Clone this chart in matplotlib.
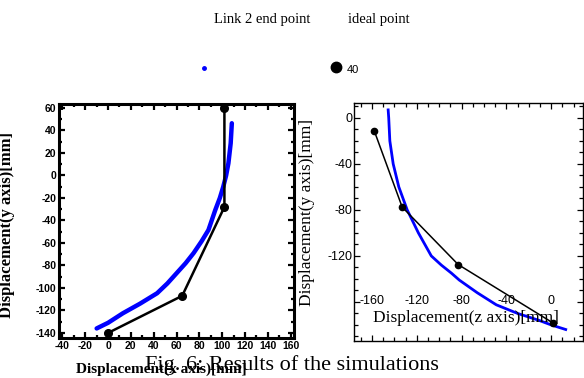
import matplotlib
matplotlib.use('Agg')
from matplotlib import pyplot as plt
from matplotlib.lines import Line2D
import numpy as np

plt.rcParams['axes.unicode_minus'] = False

# left panel: x-y plane
left_blue_x = [-10, 0, 13, 28, 43, 52, 60, 68, 75, 82, 88, 94, 98, 101,
               103.5, 105.5, 107.5, 108.5]
left_blue_y = [-136, -131, -122.5, -114, -104.7, -96, -87, -78, -69, -58.5,
               -48.5, -30.7, -20, -10, 0, 10.8, 28.6, 46.4]
left_black_x = [102, 102, 65, 0]
left_black_y = [60, -28, -107, -140]
left_xticks = list(range(-40, 161, 20))
left_yticks = list(range(-140, 61, 20))

# right panel: z-y plane
right_blue_x = [-145.5, -145, -144, -141, -136, -128.5, -118.5, -107, -98,
                -89, -82, -66, -49, -30, -11, 0, 13]
right_blue_y = [7, 0, -20, -40, -60, -80, -100, -120, -128, -135, -141,
                -152, -162.5, -170, -176, -180, -184]
right_black_x = [-158, -133, -83, 2]
right_black_y = [-11, -77.5, -127.5, -178.5]
right_xticks = [-160, -120, -80, -40, 0]
right_yticks = [0, -40, -80, -120, -160]
right_yticklabels = ['0', '-40', '-80', '-120', '']

fig = plt.figure(figsize=(5.84, 3.78), dpi=100)

# ---- left axes
axL = fig.add_axes([59 / 584, 1 - 338 / 378, 235 / 584, 234 / 378])
axL.plot(left_blue_x, left_blue_y, color='blue', lw=3.2,
         solid_capstyle='round', solid_joinstyle='round')
axL.plot(left_black_x, left_black_y, color='black', lw=1.8,
         marker='o', ms=5.5)
axL.set_xlim(-43, 163)
axL.set_ylim(-144.5, 63.5)
axL.set_xticks(left_xticks)
axL.set_yticks(left_yticks)
axL.set_xticks(np.arange(-40, 161, 10), minor=True)
axL.set_yticks(np.arange(-140, 61, 10), minor=True)
axL.tick_params(which='both', direction='in', top=True, right=True, width=1.6)
axL.tick_params(which='major', length=4)
axL.tick_params(which='minor', length=2.5)
axL.tick_params(axis='x', pad=2.5)
axL.tick_params(axis='y', pad=2)
for lab in axL.get_xticklabels() + axL.get_yticklabels():
    lab.set_family('Liberation Sans')
    lab.set_weight('bold')
    lab.set_fontsize(7.5)
for sp in axL.spines.values():
    sp.set_linewidth(2.2)
axL.set_xlabel('Displacement(x axis)[mm]', family='Liberation Serif',
               weight='bold', fontsize=11)
axL.xaxis.set_label_coords(0.434, -0.103)
axL.set_ylabel('Displacement(y axis)[mm]', family='Liberation Serif',
               weight='bold', fontsize=12)
axL.yaxis.set_label_coords(-0.187, 0.483)

# ---- right axes
axR = fig.add_axes([354 / 584, 1 - 341 / 378, 228.5 / 584, 238 / 378])
axR.plot(right_blue_x, right_blue_y, color='blue', lw=2,
         solid_joinstyle='round')
axR.plot(right_black_x, right_black_y, color='black', lw=1.1,
         marker='o', ms=4.5)
axR.set_xlim(-176, 28)
axR.set_ylim(-194, 13)
axR.set_xticks(right_xticks)
axR.set_yticks(right_yticks)
axR.set_yticklabels(right_yticklabels)
axR.set_xticks(np.arange(-170, 21, 10), minor=True)
axR.set_yticks(np.arange(-190, 11, 10), minor=True)
axR.tick_params(which='both', direction='in', top=True, right=True, width=0.9)
axR.tick_params(which='major', length=4.5)
axR.tick_params(which='minor', length=3)
axR.tick_params(axis='x', pad=-33)
axR.tick_params(axis='y', pad=1)
for lab in axR.get_xticklabels() + axR.get_yticklabels():
    lab.set_family('Liberation Sans')
    lab.set_fontsize(9)
for sp in axR.spines.values():
    sp.set_linewidth(1.0)
axR.text(0.491, 0.0966, 'Displacement(z axis)[mm]', transform=axR.transAxes,
         ha='center', va='center', family='Liberation Serif', fontsize=12.5)
axR.set_ylabel('Displacement(y axis)[mm]', family='Liberation Serif',
               fontsize=12.5)
axR.yaxis.set_label_coords(-0.170, 0.538)

# ---- legend-like header
fig.text(262 / 584, 1 - 20 / 378, 'Link 2 end point', ha='center', va='center',
         family='Liberation Serif', fontsize=10.5)
fig.text(379 / 584, 1 - 20 / 378, 'ideal point', ha='center', va='center',
         family='Liberation Serif', fontsize=10.5)
fig.add_artist(Line2D([204 / 584], [1 - 68 / 378], marker='o', ms=2.5,
                      color='blue', transform=fig.transFigure))
fig.add_artist(Line2D([336 / 584], [1 - 67 / 378], marker='o', ms=7.5,
                      color='black', transform=fig.transFigure))
fig.text(347 / 584, 1 - 70 / 378, '40', ha='left', va='center',
         family='Liberation Sans', fontsize=8)

# caption
fig.text(145 / 584, 1 - 370 / 378, 'Fig. 6: Results of the simulations',
         ha='left', va='baseline', family='Liberation Serif', fontsize=16)

fig.savefig('out.png', dpi=100)
